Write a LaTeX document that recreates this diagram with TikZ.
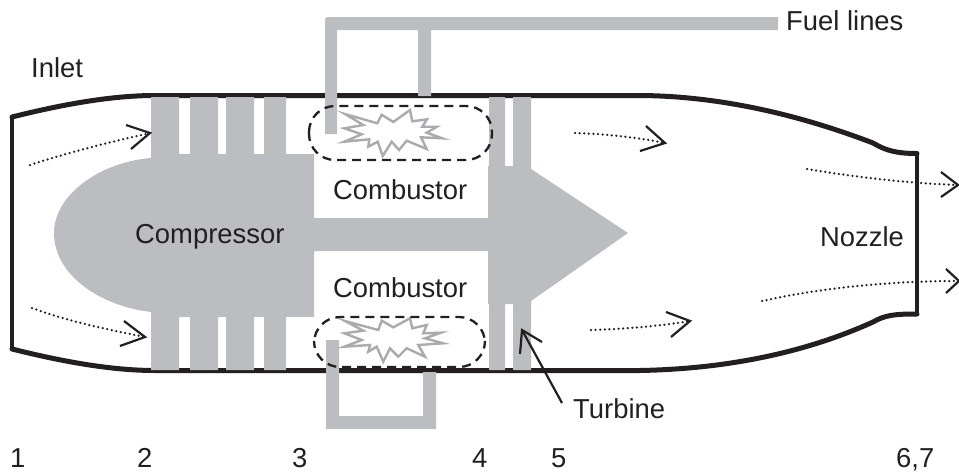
\documentclass[tikz,border=0pt]{standalone}
\usepackage{fontspec}
\setmainfont{Liberation Sans}
\definecolor{metal}{HTML}{BBBDC0}
\definecolor{flame}{HTML}{A9ABAE}
\definecolor{ink}{HTML}{231F20}
\tikzset{
  metalfill/.style={fill=metal,draw=none},
  shell/.style={draw=ink,line width=5pt,line cap=round,line join=round},
  shellthin/.style={draw=ink,line width=3.2pt},
  burner/.style={draw=ink,line width=2.3pt,dash pattern=on 9pt off 6pt,rounded corners=26pt},
  spark/.style={draw=flame,line width=2.4pt,fill=white,line join=miter},
  flow/.style={draw=ink,line width=2.5pt,line cap=round,dash pattern=on 0pt off 4.6pt},
  head/.style={draw=ink,line width=2.2pt,line join=miter},
  lbl/.style={text=ink,font=\fontsize{27.4}{27.4}\selectfont,inner sep=0pt,anchor=base west},
}
\begin{document}
\begin{tikzpicture}[x=1pt,y=-1pt]
\useasboundingbox (0,0) rectangle (959,472);
% casing
\draw[shell] (12,117) .. controls (60,105) and (110,95.5) .. (155,95.5) -- (640,95.5)
  .. controls (720,96) and (800,115) .. (873,143) .. controls (885,150) and (895,153.5) .. (917,153.5);
\draw[shell] (12,349) .. controls (60,361) and (110,370.5) .. (155,370.5) -- (640,370.5)
  .. controls (720,369) and (800,355) .. (873,322) .. controls (885,315) and (895,314) .. (917,314);
\draw[shellthin] (12,117) -- (12,349);
\draw[shellthin] (917,153.5) -- (917,314);
% compressor and shaft
\fill[metalfill] (151,158) .. controls (100,162) and (54,195) .. (54,233)
  .. controls (54,275) and (100,306) .. (151,312) -- (151,317) -- (314,317) -- (314,251)
  -- (488,251) -- (488,304) -- (531,304) -- (531,301) -- (628,233) -- (531,169) -- (531,166)
  -- (488,166) -- (488,218) -- (314,218) -- (314,154) -- (151,154) -- cycle;
% compressor blades
\fill[metalfill] (151,97) rectangle (179,155) (190,97) rectangle (218,155)
  (226,97) rectangle (254,155) (264,97) rectangle (286,155);
\fill[metalfill] (151,316) rectangle (179,370) (190,316) rectangle (218,370)
  (226,316) rectangle (254,370) (264,316) rectangle (286,370);
% turbine blades
\fill[metalfill] (489,97) rectangle (505,167) (513,97) rectangle (531,170);
\fill[metalfill] (489,303) rectangle (505,370) (513,300) rectangle (531,370);
% fuel lines
\fill[metalfill] (325,134) -- (325,19) -- (327,17) -- (778,17) -- (778,30) -- (431,30) -- (431,96)
  -- (418,96) -- (418,30) -- (337,30) -- (337,134) -- cycle;
\fill[metalfill] (326,340) -- (339,340) -- (339,416) -- (423,416) -- (423,372) -- (436,372) -- (436,429) -- (326,429) -- cycle;
% flames
\draw[spark] (345,114) -- (377.3,123.3) -- (381.7,114.7) -- (393.3,122) -- (410,110) -- (412.3,121.3)
  -- (427,119.3) -- (422.3,126.7) -- (437,126.7) -- (426.7,132.7) -- (442.3,138.3) -- (421,137.3)
  -- (426.7,149) -- (406.7,140.7) -- (399,150) -- (391.7,141.7) -- (382.7,156) -- (377.7,141.7)
  -- (368.3,146.7) -- (369.3,139.3) -- (344.3,141.7) -- (361.7,134.3) -- (344.3,128.3) -- (363.3,125) -- cycle;
\draw[spark] (345,321) -- (378.3,330) -- (381.7,320.7) -- (393.3,327.3) -- (410,318.3) -- (412.3,328.3)
  -- (426.7,325) -- (423.3,333.3) -- (441,332.7) -- (425,338.3) -- (443.3,343.3) -- (418.3,345)
  -- (425,356.7) -- (406.7,348.3) -- (398.3,356.7) -- (390,348.3) -- (383.3,361.7) -- (376.7,346.7)
  -- (368.3,351.7) -- (370,345) -- (344.3,346.7) -- (361.7,340) -- (344.3,333.3) -- (363.3,330.7) -- cycle;
% combustor liners
\draw[burner] (309,106) rectangle (492,160);
\draw[burner] (314,317) rectangle (485,367);
% flow arrows
\draw[flow] (30,165) .. controls (70,152) and (110,142) .. (150,133);
\draw[head] (126,125) -- (150,133) -- (131,149);
\draw[flow] (32,308) .. controls (70,322) and (110,330) .. (145,337);
\draw[head] (124,321) -- (145,337) -- (120,346);
\draw[flow] (575,133) .. controls (605,134) and (635,137) .. (665,143);
\draw[head] (646,126) -- (665,143) -- (640,151);
\draw[flow] (591,330) .. controls (625,329) and (660,326) .. (690,321);
\draw[head] (666,312) -- (690,321) -- (671,337);
\draw[flow] (807,169) .. controls (855,177) and (905,183) .. (957,185);
\draw[head] (941,172) -- (958,185) -- (941,197);
\draw[flow] (762,301) .. controls (820,288) and (890,281) .. (957,281);
\draw[head] (946,269) -- (959,281) -- (946,293);
% labels
\node[lbl] (inlet) at (31,77) {Inlet};
\node[lbl] (fuel) at (786,30) {Fuel lines};
\node[lbl] (compressor) at (135,243) {Compressor};
\node[lbl] (combustorA) at (333,199) {Combustor};
\node[lbl] (combustorB) at (333,297) {Combustor};
\node[lbl] (nozzle) at (820,246) {Nozzle};
\node[lbl] (turbine) at (573,418) {Turbine};
\node[lbl] (s1) at (10,467) {1};
\node[lbl] (s2) at (137,467) {2};
\node[lbl] (s3) at (292,467) {3};
\node[lbl] (s4) at (472,467) {4};
\node[lbl] (s5) at (551,467) {5};
\node[lbl] (s67) at (896,467) {6,7};
% turbine pointer
\coordinate (tail) at (562,403);
\coordinate (tip) at (522,330);
\draw[head] (tail) -- (tip);
\draw[head] (520,354) -- (tip) -- (542,342);
\end{tikzpicture}
\end{document}
